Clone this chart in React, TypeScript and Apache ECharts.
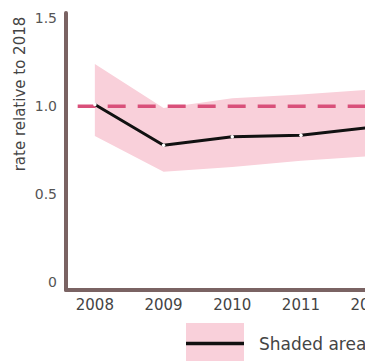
import React, { useEffect, useRef } from "react";
import * as echarts from "echarts";

// Years on the x axis and the rate series (relative to 2018)
const years = [2008, 2009, 2010, 2011, 2012];
const rate = [1.01, 0.778, 0.826, 0.835, 0.879];
// Uncertainty band around the rate
const bandUpper = [1.24, 0.99, 1.045, 1.066, 1.094];
const bandLower = [0.83, 0.627, 0.655, 0.69, 0.716];
// Reference level
const referenceLevel = 1.0;
const yTickValues = [0, 0.5, 1.0, 1.5];
const xTickValues = [2008, 2009, 2010, 2011, 2012, 2013];
const yAxisTitle = "rate relative to 2018";
const legendText = "Shaded area";

const PINK = "#f9d0da";
const DASH = "#d9507a";
const AXIS = "#7a6363";
const FONT = "DejaVu Sans";

export default function App() {
  const ref = useRef<HTMLDivElement>(null);

  useEffect(() => {
    if (!ref.current) return;
    const chart = echarts.init(ref.current, undefined, { renderer: "svg" });
    const xMin = 2007.58;
    const xMax = 2013.606;

    chart.setOption({
      animation: false,
      grid: { left: 66, top: 13, width: 414, height: 277 },
      xAxis: {
        type: "value",
        min: xMin,
        max: xMax,
        splitLine: { show: false },
        axisTick: { show: false },
        axisLine: {
          onZero: false,
          lineStyle: { color: AXIS, width: 4, cap: "round" },
        },
        axisLabel: {
          customValues: xTickValues,
          formatter: (v: number) => String(Math.round(v)),
          fontFamily: FONT,
          fontSize: 15,
          color: "#444",
          margin: 7,
        },
      },
      yAxis: {
        type: "value",
        min: -0.045,
        max: 1.53,
        splitLine: { show: false },
        axisTick: { show: false },
        axisLine: {
          show: true,
          onZero: false,
          lineStyle: { color: AXIS, width: 4, cap: "round" },
        },
        axisLabel: {
          customValues: yTickValues,
          formatter: (v: number) => (v === 0 ? "0" : v.toFixed(1)),
          fontFamily: FONT,
          fontSize: 14,
          color: "#555",
          margin: 9,
        },
      },
      series: [
        {
          type: "custom",
          z: 1,
          data: [[years[0], rate[0]]],
          renderItem: (_params: any, api: any) => {
            const top = years.map((y, i) => api.coord([y, bandUpper[i]]));
            const bottom = years
              .map((y, i) => api.coord([y, bandLower[i]]))
              .reverse();
            return {
              type: "polygon",
              shape: { points: top.concat(bottom) },
              style: { fill: PINK },
            };
          },
        },
        {
          type: "line",
          z: 2,
          data: [
            [2007.75, referenceLevel],
            [xMax, referenceLevel],
          ],
          symbol: "none",
          lineStyle: { color: DASH, width: 3.5, type: [18, 12] },
        },
        {
          type: "line",
          z: 3,
          data: years.map((y, i) => [y, rate[i]]),
          symbol: "circle",
          symbolSize: 3.5,
          showSymbol: true,
          itemStyle: { color: "#ffffff", borderWidth: 0 },
          lineStyle: { color: "#111", width: 3 },
        },
      ],
      graphic: [
        {
          type: "text",
          x: 20,
          y: 94,
          rotation: Math.PI / 2,
          style: {
            text: yAxisTitle,
            fontFamily: FONT,
            fontSize: 15,
            fill: "#444",
            align: "center",
            verticalAlign: "middle",
          },
        },
        {
          type: "rect",
          shape: { x: 186, y: 323, width: 58, height: 50 },
          style: { fill: PINK },
        },
        {
          type: "line",
          shape: { x1: 186, y1: 343.5, x2: 244, y2: 343.5 },
          style: { stroke: "#111", lineWidth: 3.5 },
        },
        {
          type: "text",
          x: 259,
          y: 344,
          style: {
            text: legendText,
            fontFamily: FONT,
            fontSize: 17,
            fill: "#444",
            align: "left",
            verticalAlign: "middle",
          },
        },
      ],
    });

    return () => chart.dispose();
  }, []);

  return (
    <div
      style={{
        position: "fixed",
        left: 0,
        top: 0,
        width: 365,
        height: 361,
        overflow: "hidden",
        background: "#ffffff",
      }}
    >
      <div ref={ref} style={{ width: 480, height: 361 }} />
    </div>
  );
}
